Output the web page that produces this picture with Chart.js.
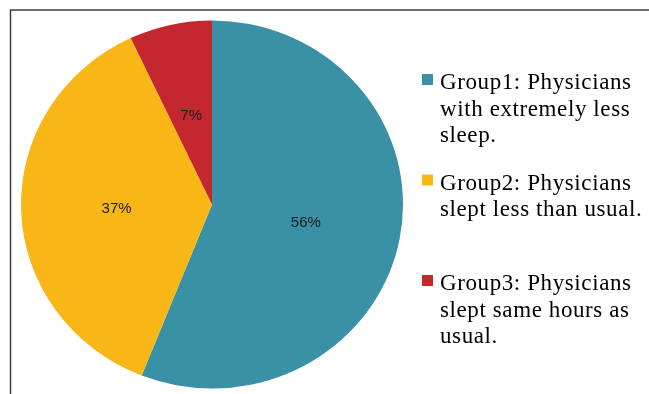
<!DOCTYPE html>
<html>
<head>
<meta charset="utf-8">
<script src="https://cdn.jsdelivr.net/npm/chart.js@4.4.1/dist/chart.umd.min.js"></script>
<style>
  html, body { margin: 0; padding: 0; background: #fff; }
  #wrap { width: 649px; height: 394px; }
</style>
</head>
<body>
<div id="wrap"><canvas id="sleepPie"></canvas></div>
<script>
// categories (legend text, one entry per line) and shares in percent
const categories = [
  ['Group1: Physicians', 'with extremely less', 'sleep.'],
  ['Group2: Physicians', 'slept less than usual.'],
  ['Group3: Physicians', 'slept same hours as', 'usual.']
];
const shares = [56, 37, 7];
const sliceColors = ['#3a90a4', '#f9b617', '#c3282f'];

const STRETCH = 191 / 184; // pie is drawn slightly wider than tall

// squash/stretch the arcs horizontally around the pie centre
const ovalPie = {
  id: 'ovalPie',
  beforeDatasetsDraw(chart) {
    const arc = chart.getDatasetMeta(0).data[0];
    const ctx = chart.ctx;
    ctx.save();
    ctx.translate(arc.x, arc.y);
    ctx.scale(STRETCH, 1);
    ctx.translate(-arc.x, -arc.y);
  },
  afterDatasetsDraw(chart) {
    chart.ctx.restore();
  }
};

// percent labels, legend on the right, and the frame lines
const extras = {
  id: 'extras',
  afterDraw(chart) {
    const ctx = chart.ctx;
    const meta = chart.getDatasetMeta(0);

    ctx.save();
    ctx.font = '15px "Liberation Sans", Arial, sans-serif';
    ctx.fillStyle = '#1b1b1b';
    ctx.textAlign = 'center';
    ctx.textBaseline = 'middle';
    meta.data.forEach((arc, i) => {
      const p = arc.tooltipPosition();
      const x = arc.x + (p.x - arc.x) * STRETCH;
      ctx.fillText(shares[i] + '%', x, p.y + 1);
    });
    ctx.restore();

    // legend
    ctx.save();
    ctx.font = '23px "Liberation Serif", "Times New Roman", serif';
    ctx.letterSpacing = '0.6px';
    ctx.textAlign = 'left';
    ctx.textBaseline = 'alphabetic';
    const items = chart.options.plugins.legend.labels.generateLabels(chart);
    const firstBase = 89, entryGap = 100.5, lineGap = 26.5;
    items.forEach((item, i) => {
      const base = firstBase + i * entryGap;
      ctx.fillStyle = item.fillStyle;
      ctx.fillRect(422, base - 15, 11, 11);
      ctx.fillStyle = '#000';
      categories[i].forEach((line, j) => {
        ctx.fillText(line, 440, base + j * lineGap);
      });
    });
    ctx.restore();

    // frame
    ctx.save();
    ctx.strokeStyle = '#3c3c3c';
    ctx.lineWidth = 1.5;
    ctx.beginPath();
    ctx.moveTo(649, 10);
    ctx.lineTo(10.5, 10);
    ctx.lineTo(10.5, 394);
    ctx.stroke();
    ctx.restore();
  }
};

new Chart(document.getElementById('sleepPie'), {
  type: 'pie',
  data: {
    labels: categories,
    datasets: [{
      data: shares,
      backgroundColor: sliceColors,
      borderWidth: 0
    }]
  },
  options: {
    responsive: true,
    maintainAspectRatio: false,
    animation: false,
    layout: {
      padding: { top: 20.5, bottom: 5.5, left: 28, right: 253 }
    },
    plugins: {
      legend: { display: false },
      tooltip: { enabled: false }
    }
  },
  plugins: [ovalPie, extras]
});
</script>
</body>
</html>
